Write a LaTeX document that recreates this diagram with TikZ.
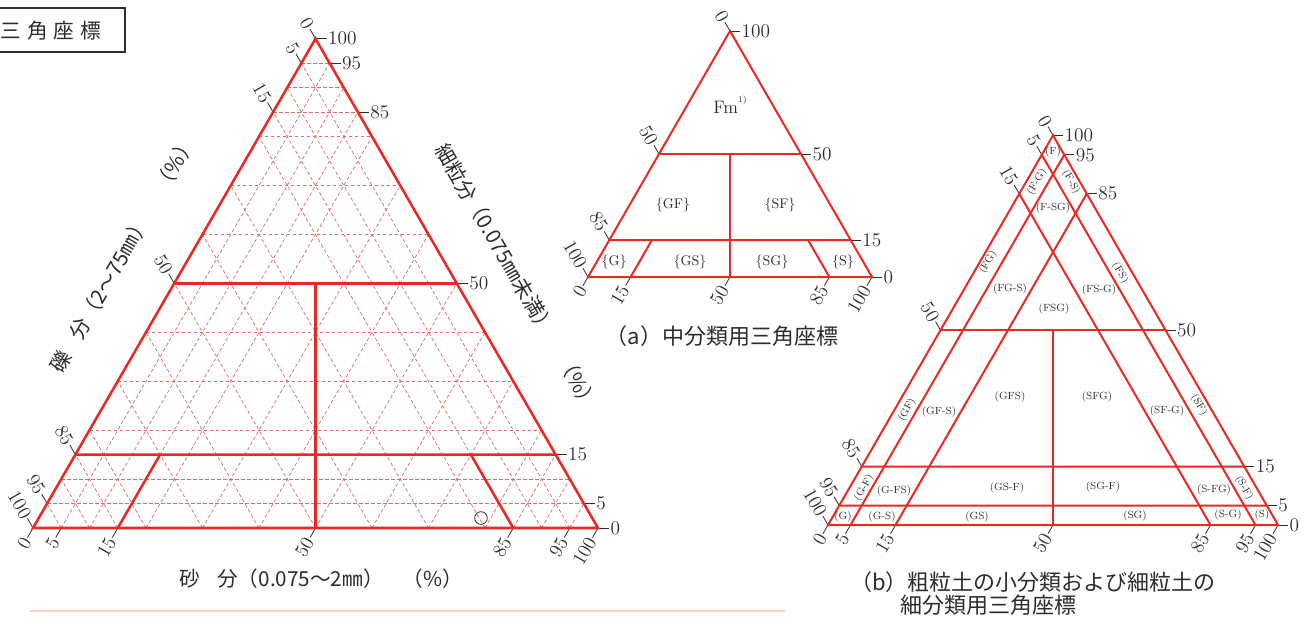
\documentclass[tikz,border=0pt]{standalone}
\usepackage{fontspec}
\newfontfamily\jp{Noto Sans CJK JP}
\usetikzlibrary{calc}
\definecolor{lred}{RGB}{235,40,35}
\definecolor{gred}{RGB}{226,105,105}
\definecolor{txt}{RGB}{45,45,45}
\definecolor{faint}{RGB}{250,208,198}
\tikzset{
  frame/.style={draw=lred, line width=1.9pt, line join=miter},
  frameb/.style={draw=lred, line width=1.5pt, line join=miter},
  gridline/.style={draw=gred, line width=0.55pt, dash pattern=on 2.6pt off 1.9pt},
  tickline/.style={draw=txt, line width=0.6pt},
  ticklab/.style={font=\fontsize{14.5}{14.5}\selectfont, text=txt, inner sep=1pt},
  alab/.style={font=\fontsize{10.5}{10.5}\selectfont, text=txt, inner sep=0pt},
  blab/.style={font=\fontsize{7.8}{7.8}\selectfont, text=txt, inner sep=0pt},
  jlab/.style={font=\jp\fontsize{15.5}{15.5}\selectfont, text=txt, inner sep=0pt},
  caplab/.style={font=\jp\fontsize{16.5}{16.5}\selectfont, text=txt, inner sep=0pt},
}
\newcommand{\ternticks}[5]{%
  \foreach \v in {#2}{%
    \pgfmathsetmacro\p{\v/100}\pgfmathsetmacro\q{1-\v/100}%
    \coordinate (#1-l\v) at (barycentric cs:#1A=\p,#1C=\q);
    \draw[tickline] (#1-l\v) -- ++(-0.5*#5,-0.866*#5) coordinate (#1-lt\v);
    \node[ticklab, rotate=-60, anchor=east] (#1-ll\v) at (#1-lt\v) {\v};
  }%
  \foreach \v in {#3}{%
    \pgfmathsetmacro\p{\v/100}\pgfmathsetmacro\q{1-\v/100}%
    \coordinate (#1-r\v) at (barycentric cs:#1B=\q,#1C=\p);
    \draw[tickline] (#1-r\v) -- ++(#5,0) coordinate (#1-rt\v);
    \node[ticklab, anchor=west] (#1-rl\v) at (#1-rt\v) {\v};
  }%
  \foreach \v in {#4}{%
    \pgfmathsetmacro\p{\v/100}\pgfmathsetmacro\q{1-\v/100}%
    \coordinate (#1-b\v) at (barycentric cs:#1A=\q,#1B=\p);
    \draw[tickline] (#1-b\v) -- ++(-0.5*#5,0.866*#5) coordinate (#1-bt\v);
    \node[ticklab, rotate=60, anchor=east] (#1-bl\v) at (#1-bt\v) {\v};
  }%
}
\begin{document}
\begin{tikzpicture}[x=0.75pt,y=-0.75pt]
\useasboundingbox (0,0) rectangle (1313,618);
\fill[white] (0,0) rectangle (1313,618);

% ---------------- title box
\draw[txt, line width=0.8pt] (0,8) -- (125,8) -- (125,52) -- (0,52);
\node[jlab, font=\jp\fontsize{15.5}{15.5}\selectfont] (title) at (51,31) {三\hspace{4.5pt}角\hspace{4.5pt}座\hspace{4.5pt}標};

% ---------------- main triangle
\coordinate (mA) at (33,528);
\coordinate (mB) at (598,528);
\coordinate (mC) at (315.5,38.7);
\foreach \v in {5,10,15,20,30,40,50,60,70,80,85,90,95}{%
  \pgfmathsetmacro\p{\v/100}\pgfmathsetmacro\q{1-\v/100}%
  \draw[gridline] (barycentric cs:mA=\q,mC=\p) -- (barycentric cs:mB=\q,mC=\p);
  \draw[gridline] (barycentric cs:mA=\q,mB=\p) -- (barycentric cs:mB=\p,mC=\q);
  \draw[gridline] (barycentric cs:mA=\p,mB=\q) -- (barycentric cs:mA=\p,mC=\q);
}
\ternticks{m}{0,5,15,50,85,95,100}{100,95,85,50,15,5,0}{0,5,15,50,85,95,100}{11}
\coordinate (m-c50) at ($(m-l50)!0.5!(m-r50)$);
\coordinate (m-s15) at (barycentric cs:mA=0.70,mB=0.15,mC=0.15);
\coordinate (m-g15) at (barycentric cs:mA=0.15,mB=0.70,mC=0.15);
\draw[frame] (mA) -- (mB) -- (mC) -- cycle;
\draw[frame] (m-l50) -- (m-r50);
\draw[frame] (m-l85) -- (m-r15);
\draw[frame] (m-c50) -- (m-b50);
\draw[frame] (m-b15) -- (m-s15);
\draw[frame] (m-b85) -- (m-g15);
\node[circle, draw=txt, line width=0.6pt, minimum size=9.5pt, inner sep=0pt] (circ) at (481,518) {};

\node[jlab, rotate=60] (lgrav) at (123,254) {礫\hspace{13pt}分（2～75㎜）\hspace{24pt}（\%）};
\node[jlab, rotate=-60] (lfine) at (517,277) {細粒分（0.075㎜未満）\hspace{20pt}（\%）};
\node[jlab] (lsand) at (321,579) {砂\hspace{13pt}分（0.075～2㎜）\hspace{14pt}（\%）};

% ---------------- triangle (a)
\coordinate (aA) at (588,277);
\coordinate (aB) at (872,277);
\coordinate (aC) at (730,31);
\ternticks{a}{0,50,85,100}{100,50,15,0}{0,15,50,85,100}{10}
\coordinate (a-c50) at ($(a-l50)!0.5!(a-r50)$);
\coordinate (a-s15) at (barycentric cs:aA=0.70,aB=0.15,aC=0.15);
\coordinate (a-g15) at (barycentric cs:aA=0.15,aB=0.70,aC=0.15);
\draw[frameb] (aA) -- (aB) -- (aC) -- cycle;
\draw[frameb] (a-l50) -- (a-r50);
\draw[frameb] (a-l85) -- (a-r15);
\draw[frameb] (a-c50) -- (a-b50);
\draw[frameb] (a-b15) -- (a-s15);
\draw[frameb] (a-b85) -- (a-g15);
\node[alab, font=\fontsize{13.5}{13.5}\selectfont] (a-Fm) at (730,105) {Fm\raisebox{8pt}{\fontsize{6.5}{6.5}\selectfont 1)}};
\node[alab] (a-GF) at (673,205) {\{GF\}};
\node[alab] (a-SF) at (780,205) {\{SF\}};
\node[alab] (a-G) at (614,262) {\{G\}};
\node[alab] (a-GS) at (690,262) {\{GS\}};
\node[alab] (a-SG) at (772,262) {\{SG\}};
\node[alab] (a-S) at (843,262) {\{S\}};
\node[caplab] (capa) at (722,336) {（a）中分類用三角座標};

% ---------------- triangle (b)
\coordinate (bA) at (828,525);
\coordinate (bB) at (1278,525);
\coordinate (bC) at (1053,135.3);
\ternticks{b}{0,5,15,50,85,95,100}{100,95,85,50,15,5,0}{0,5,15,50,85,95,100}{10}
\coordinate (b-c50) at ($(b-l50)!0.5!(b-r50)$);
\draw[frameb] (bA) -- (bB) -- (bC) -- cycle;
\draw[frameb] (b-l50) -- (b-r50);
\draw[frameb] (b-l85) -- (b-r15);
\draw[frameb] (b-l95) -- (b-r5);
\draw[frameb] (b-c50) -- (b-b50);
\draw[frameb] (b-b5) -- (b-r95);
\draw[frameb] (b-b15) -- (b-r85);
\draw[frameb] (b-b95) -- (b-l5);
\draw[frameb] (b-b85) -- (b-l15);

\node[blab] (b-F) at (1053,152) {(F)};
\node[blab, rotate=60] (b-FmG) at (1037,182) {(F-G)};
\node[blab, rotate=-60] (b-FmS) at (1071,182) {(F-S)};
\node[blab] (b-FmSG) at (1053,208) {(F-SG)};
\node[blab, rotate=60] (b-FG) at (988,262) {(FG)};
\node[blab] (b-FGmS) at (1010,289) {(FG-S)};
\node[blab] (b-FSG) at (1054,309) {(FSG)};
\node[blab] (b-FSmG) at (1099,290) {(FS-G)};
\node[blab, rotate=-60] (b-FS) at (1120,273) {(FS)};
\node[blab, rotate=60] (b-GF) at (907,410) {(GF)};
\node[blab] (b-GFmS) at (939,412) {(GF-S)};
\node[blab] (b-GFS) at (1010,397) {(GFS)};
\node[blab] (b-SFG) at (1097,397) {(SFG)};
\node[blab] (b-SFmG) at (1167,411) {(SF-G)};
\node[blab, rotate=-60] (b-SF) at (1199,405) {(SF)};
\node[blab, rotate=60] (b-GmF) at (864,488) {(G-F)};
\node[blab] (b-GmFS) at (894,491) {(G-FS)};
\node[blab] (b-GSmF) at (1007,488) {(GS-F)};
\node[blab] (b-SGmF) at (1103,487) {(SG-F)};
\node[blab] (b-SmFG) at (1214,490) {(S-FG)};
\node[blab, rotate=-60] (b-SmF) at (1244,488) {(S-F)};
\node[blab] (b-G) at (843,517) {(G)};
\node[blab] (b-GmS) at (882,517) {(G-S)};
\node[blab] (b-GS) at (977,517) {(GS)};
\node[blab] (b-SG) at (1135,516) {(SG)};
\node[blab] (b-SmG) at (1228,515) {(S-G)};
\node[blab] (b-S) at (1262,515) {(S)};

\node[caplab, anchor=west] (capb1) at (850,582) {（b）粗粒土の小分類および細粒土の};
\node[caplab, anchor=west] (capb2) at (900,605) {細分類用三角座標};

% faint band at the bottom
\coordinate (f1) at (30,611);
\coordinate (f2) at (785,611);
\draw[faint, line width=1.6pt] (f1) -- (f2);
\end{tikzpicture}
\end{document}
